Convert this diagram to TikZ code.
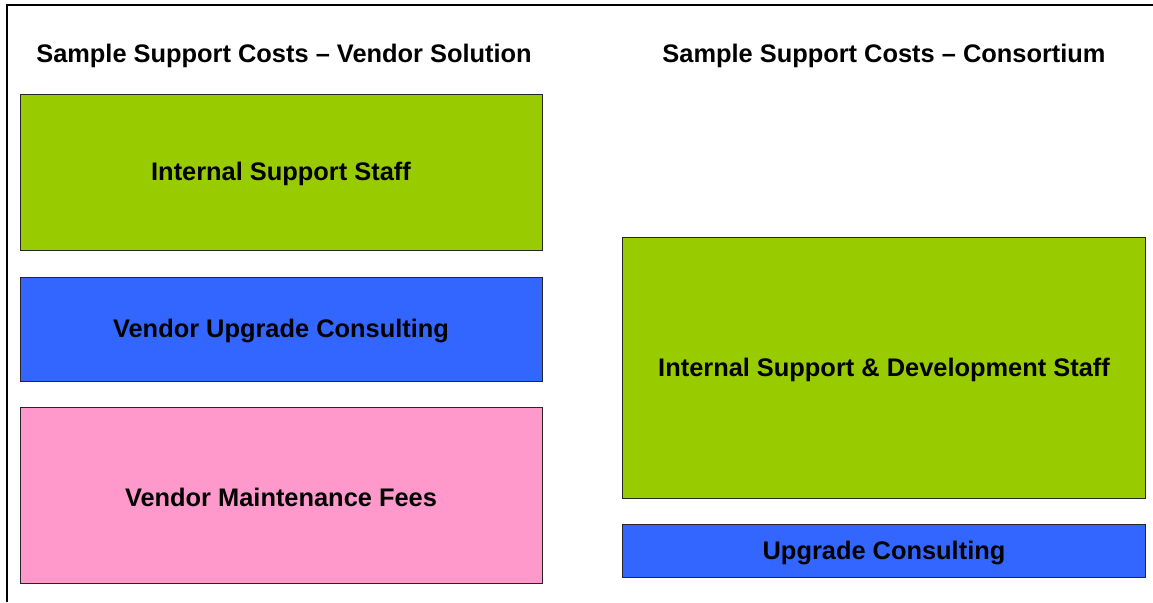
\documentclass[tikz,border=0pt]{standalone}
\usepackage{fontspec}
\setmainfont{Liberation Sans}
\definecolor{cgreen}{HTML}{99CC00}
\definecolor{cblue}{HTML}{3366FF}
\definecolor{cpink}{HTML}{FF99CC}
\begin{document}
\begin{tikzpicture}[x=1pt,y=-1pt,
  costbox/.style={draw=black!85, line width=0.9pt, inner sep=0pt},
  lbl/.style={font=\bfseries\fontsize{25.4}{28}\selectfont},
  ttl/.style={font=\bfseries\fontsize{25.4}{28}\selectfont}]
\useasboundingbox (0,0) rectangle (1153,602);
\draw[line width=2pt] (7,602) -- (7,5) -- (1153,5);
\node[ttl] (t1) at (284,56) {Sample Support Costs – Vendor Solution};
\node[ttl] (t2) at (884,56) {Sample Support Costs – Consortium};
\filldraw[costbox, fill=cgreen] (20,94) rectangle (542,250);
\node[lbl] (a) at (281,174) {Internal Support Staff};
\filldraw[costbox, fill=cblue] (20,277) rectangle (542,381);
\node[lbl] (b) at (281,331) {Vendor Upgrade Consulting};
\filldraw[costbox, fill=cpink] (20,407) rectangle (542,583);
\node[lbl] (c) at (281,497) {Vendor Maintenance Fees};
\filldraw[costbox, fill=cgreen] (622,237) rectangle (1145,498);
\node[lbl] (d) at (884,370) {Internal Support \& Development Staff};
\filldraw[costbox, fill=cblue] (622,524) rectangle (1145,577);
\node[lbl] (e) at (884,553) {Upgrade Consulting};
\end{tikzpicture}
\end{document}
